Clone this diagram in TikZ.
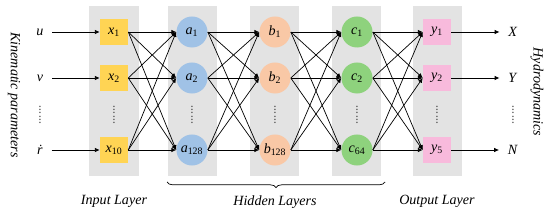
\documentclass[tikz,border=0pt]{standalone}
\usepackage{fontspec}
\setmainfont{Liberation Serif}
\usepackage{tikz}
\usetikzlibrary{arrows.meta, positioning, decorations.pathreplacing}
\definecolor{panelgray}{RGB}{227,227,227}
\definecolor{inyellow}{RGB}{255,212,84}
\definecolor{ablue}{RGB}{160,194,230}
\definecolor{bpeach}{RGB}{249,200,166}
\definecolor{cgreen}{RGB}{142,210,125}
\definecolor{outpink}{RGB}{248,186,220}
\newcommand{\nv}[2]{\textit{#1}\textsubscript{#2}}

\begin{document}
\begin{tikzpicture}[x=0.025cm, y=-0.025cm, >={Latex[length=1.2mm, width=1.1mm]},
  panel/.style={fill=panelgray, minimum width=1.225cm, minimum height=4.25cm, inner sep=0pt},
  inbox/.style={fill=inyellow, minimum width=0.7cm, minimum height=0.67cm, inner sep=0pt},
  outbox/.style={inbox, fill=outpink},
  neuron/.style={circle, minimum size=0.775cm, inner sep=0pt},
  link/.style={->, line width=0.5pt},
  vdots/.style={rotate=90, text=black!70, font=\small, inner sep=0pt}]
  \useasboundingbox (0,0) rectangle (550,215);

  % grey layer panels
  \node[panel] (p1) at (114,91)   {};
  \node[panel] (p2) at (192.5,91) {};
  \node[panel] (p3) at (274.5,91) {};
  \node[panel] (p4) at (356.5,91) {};
  \node[panel] (p5) at (437.5,91) {};

  % input layer
  \node[inbox] (in1) at (114,32)  {\nv{x}{1}};
  \node[inbox] (in2) at (114,78)  {\nv{x}{2}};
  \node[inbox] (in3) at (114,150) {\nv{x}{10}};

  % hidden layers
  \node[neuron, fill=ablue] (a1) at (192,32)  {\nv{a}{1}};
  \node[neuron, fill=ablue] (a2) at (192,78)  {\nv{a}{2}};
  \node[neuron, fill=ablue] (a3) at (192,150) {\nv{a}{128}};

  \node[neuron, fill=bpeach] (b1) at (275,32)  {\nv{b}{1}};
  \node[neuron, fill=bpeach] (b2) at (275,78)  {\nv{b}{2}};
  \node[neuron, fill=bpeach] (b3) at (275,150) {\nv{b}{128}};

  \node[neuron, fill=cgreen] (c1) at (357,32)  {\nv{c}{1}};
  \node[neuron, fill=cgreen] (c2) at (357,78)  {\nv{c}{2}};
  \node[neuron, fill=cgreen] (c3) at (357,150) {\nv{c}{64}};

  % output layer
  \node[outbox] (out1) at (437,32)  {\nv{y}{1}};
  \node[outbox] (out2) at (437,78)  {\nv{y}{2}};
  \node[outbox] (out3) at (437,150) {\nv{y}{5}};

  % dots
  \node[vdots] (dl) at (40,115)  {......};
  \node[vdots] (d1) at (114,115) {......};
  \node[vdots] (d2) at (192,115) {......};
  \node[vdots] (d3) at (275,115) {......};
  \node[vdots] (d4) at (357,115) {......};
  \node[vdots] (d5) at (437,115) {......};
  \node[vdots] (dr) at (513,115) {......};

  % inputs and outputs
  \node (u)    at (40,32)  {\textit{u}};
  \node (v)    at (40,78)  {\textit{v}};
  \node (rdot) at (40,150) {\textit{\.r}};
  \node (X) at (513,32)  {\textit{X}};
  \node (Y) at (513,78)  {\textit{Y}};
  \node (N) at (513,150) {\textit{N}};

  \draw[link, shorten <=1mm] (u) -- (in1);
  \draw[link, shorten <=1mm] (v) -- (in2);
  \draw[link, shorten <=1mm] (rdot) -- (in3);
  \draw[link, shorten >=1mm] (out1) -- (X);
  \draw[link, shorten >=1mm] (out2) -- (Y);
  \draw[link, shorten >=1mm] (out3) -- (N);

  % full connections
  \foreach \l/\m in {in/a, a/b, b/c, c/out}
    \foreach \s in {1,2,3}
      \foreach \t in {1,2,3}
        \draw[link] (\l\s.east) -- (\m\t.west);

  % side and bottom labels
  \node[rotate=-90] (kin) at (14,95) {\textit{Kinematic parameters}};
  \node[rotate=-90] (hyd) at (537,92) {\textit{Hydrodynamics}};

  \node (inl)  at (114,201) {\textit{Input Layer}};
  \node (hidl) at (275,202) {\textit{Hidden Layers}};
  \node (outl) at (437,201) {\textit{Output Layer}};

  \coordinate (bl) at (167,182);
  \coordinate (br) at (385,182);
  \draw[decorate, decoration={brace, mirror, amplitude=4pt}, line width=0.5pt] (bl) -- (br);
\end{tikzpicture}
\end{document}
